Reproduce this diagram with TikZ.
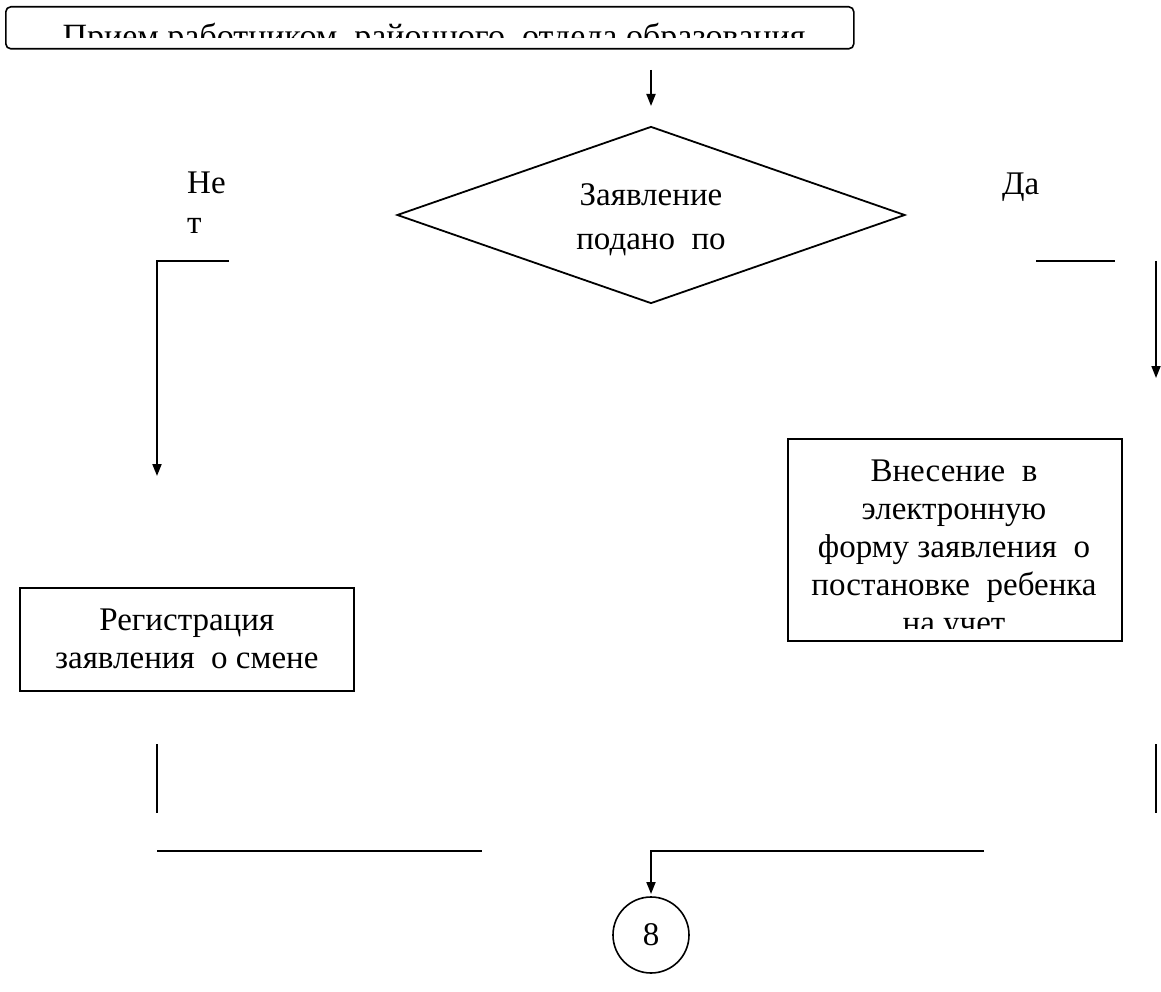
\documentclass[tikz,border=0pt]{standalone}
\usepackage{fontspec}
\setmainfont{Liberation Serif}
\usetikzlibrary{arrows.meta,shapes.geometric}
\begin{document}
\begin{tikzpicture}[x=1pt,y=-1pt,
  line/.style={line width=1.8pt},
  arr/.style={line width=1.8pt,-{Triangle[length=12pt,width=9pt]}},
  box/.style={draw,line width=1.6pt,inner sep=0pt},
  txt/.style={font=\rmfamily\fontsize{33}{38}\selectfont,inner sep=0pt}]
\useasboundingbox (0,0) rectangle (1161,992);
% top box
\node[box,rounded corners=5pt,minimum width=848pt,minimum height=42pt,anchor=north west] (top) at (5,6) {};
\begin{scope}
  \clip (6,7) rectangle (852,38);
  \node[txt,anchor=base,font=\rmfamily\fontsize{34}{38}\selectfont] (toptext) at (434,48) {Прием работником\ \ районного\ \ отдела образования};
\end{scope}
\coordinate (a1s) at (651,70);
\coordinate (a1e) at (651,106);
\draw[arr] (a1s) -- (a1e);
% diamond
\node[draw,diamond,line width=1.8pt,minimum width=508pt,minimum height=177pt,inner sep=0pt] (dia) at (651,215) {};
\node[txt,align=center,anchor=north] (diatext) at (651,183) {Заявление\\[6pt]подано\ \ по};
\node[txt,align=left,anchor=north west,font=\rmfamily\fontsize{33}{40}\selectfont] (net) at (187,172) {Не\\т};
\node[txt,anchor=base west] (da) at (1002,195) {Да};
% left branch
\coordinate (L1) at (229,261);
\coordinate (L2) at (157,261);
\coordinate (L3) at (157,476);
\draw[arr] (L1) -- (L2) -- (L3);
% right branch
\coordinate (R1) at (1036,261);
\coordinate (R2) at (1115,261);
\draw[line] (R1) -- (R2);
\coordinate (R3) at (1156,261);
\coordinate (R4) at (1156,378);
\draw[arr] (R3) -- (R4);
% right box
\node[box,minimum width=334pt,minimum height=202pt,anchor=north west] (rbox) at (787,438) {};
\begin{scope}
  \clip (788,439) rectangle (1120,628);
  \node[txt,align=center,anchor=north] (rtext) at (954,460) {Внесение\ \ в\\электронную\\форму заявления\ \ о\\постановке\ \ ребенка\\на учет};
\end{scope}
% left box
\node[box,minimum width=334pt,minimum height=103pt,anchor=north west,txt,align=center] (lbox) at (19,587) {Регистрация\\заявления\ \ о смене};
% bottom lines
\coordinate (B1) at (157,744);
\coordinate (B2) at (157,813);
\draw[line] (B1) -- (B2);
\coordinate (B3) at (1156,744);
\coordinate (B4) at (1156,813);
\draw[line] (B3) -- (B4);
\coordinate (H1) at (157,851);
\coordinate (H2) at (482,851);
\draw[line] (H1) -- (H2);
\coordinate (H3) at (984,851);
\coordinate (H4) at (651,851);
\coordinate (H5) at (651,894);
\draw[arr] (H3) -- (H4) -- (H5);
\node[draw,circle,line width=1.6pt,minimum size=76pt,txt] (c8) at (651,935) {8};
\end{tikzpicture}
\end{document}
